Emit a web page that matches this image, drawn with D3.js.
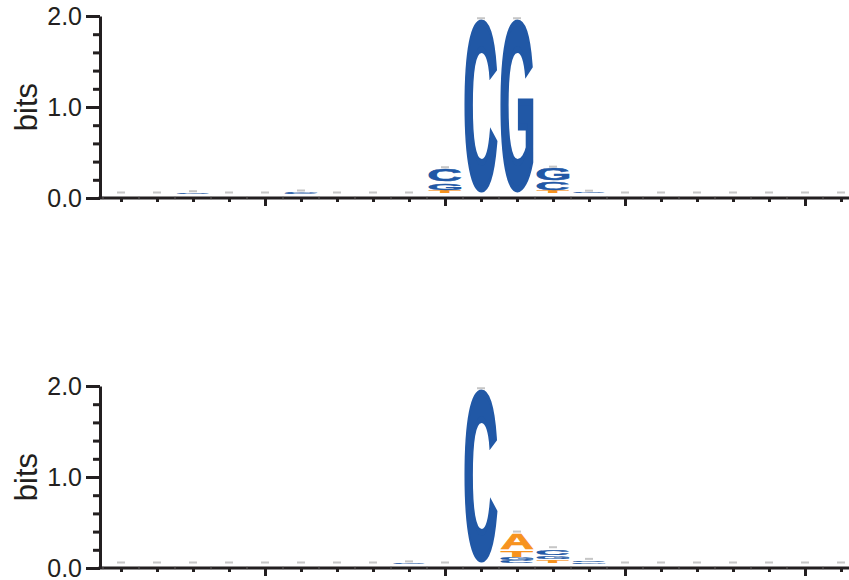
<!DOCTYPE html>
<html>
<head>
<meta charset="utf-8">
<script src="https://cdn.jsdelivr.net/npm/d3@7"></script>
<style>
  body { margin: 0; background: #fff; }
  svg { display: block; }
</style>
</head>
<body>
<svg id="logo" width="849" height="580"></svg>
<script>
// positions 1..21 of the motif window
var positions = d3.range(1, 22);
var bases = ['A', 'C', 'G', 'T'];

// top logo, bits per base and position
var topA = [0, 0, 0, 0, 0, 0, 0, 0, 0, 0,     0,    0,    0,     0,     0, 0, 0, 0, 0, 0, 0];
var topC = [0, 0, 0.014, 0, 0, 0.010, 0, 0, 0, 0.152, 1.915, 0,    0.100, 0.012, 0, 0, 0, 0, 0, 0, 0];
var topG = [0, 0, 0, 0, 0, 0.012, 0, 0, 0, 0.088, 0,     1.915, 0.146, 0.008, 0, 0, 0, 0, 0, 0, 0];
var topT = [0, 0, 0, 0, 0, 0, 0, 0, 0, 0.038, 0,     0,    0.038, 0,     0, 0, 0, 0, 0, 0, 0];

// bottom logo
var botA = [0, 0, 0, 0, 0, 0, 0, 0, 0,     0, 0,     0.187, 0,     0,     0, 0, 0, 0, 0, 0, 0];
var botC = [0, 0, 0, 0, 0, 0, 0, 0, 0.012, 0, 1.915, 0.035, 0.077, 0.025, 0, 0, 0, 0, 0, 0, 0];
var botG = [0, 0, 0, 0, 0, 0, 0, 0, 0,     0, 0,     0.036, 0.047, 0.015, 0, 0, 0, 0, 0, 0, 0];
var botT = [0, 0, 0, 0, 0, 0, 0, 0, 0,     0, 0,     0.082, 0.044, 0,     0, 0, 0, 0, 0, 0, 0];

var yMajor = [0, 1, 2];
var yMinor = [0.2, 0.4, 0.6, 0.8, 1.2, 1.4, 1.6, 1.8];
var xMajor = [5, 10, 15, 20];

var baseColor = {A: '#f7931e', C: '#2158a6', G: '#2158a6', T: '#f7931e'};
var axisColor = '#231f20';
var letterFont = '"Liberation Sans", Arial, sans-serif';

var svg = d3.select('#logo');
var W = 849;

var x = d3.scaleLinear().domain([1, 21]).range([121, 841]);
var y = d3.scaleLinear().domain([0, 2]).range([198, 16]);
var colW = 36, letterW = 33;

// ink box of each letter, to stretch glyphs into their cells
var ctx = document.createElement('canvas').getContext('2d');
ctx.font = 'bold 100px ' + letterFont;
var ink = {};
bases.forEach(function(b){
	var m = ctx.measureText(b);
	ink[b] = {l: m.actualBoundingBoxLeft, r: m.actualBoundingBoxRight,
		a: m.actualBoundingBoxAscent, d: m.actualBoundingBoxDescent};
});

function stacks(A, C, G, T){
	return positions.map(function(p, i){
		var cells = [{b:'A', v:A[i]}, {b:'C', v:C[i]}, {b:'G', v:G[i]}, {b:'T', v:T[i]}]
			.sort(function(a, b){ return a.v - b.v; });
		var acc = 0;
		cells.forEach(function(c){ c.y0 = acc; acc += c.v; c.y1 = acc; });
		return {pos: p, cells: cells, total: acc};
	});
}

function drawPanel(offset, A, C, G, T){
	var g = svg.append('g').attr('transform', 'translate(0,' + offset + ')');
	var data = stacks(A, C, G, T);
	var lift = 4;   // letters sit just above the axis line

	var cols = g.selectAll('g.col')
		.data(data)
		.enter().append('g')
			.attr('class', 'col');

	cols.selectAll('text')
		.data(function(d){ return d.cells.filter(function(c){ return (y(c.y0) - y(c.y1)) > 0.6; })
			.map(function(c){ c.pos = d.pos; return c; }); })
		.enter().append('text')
			.attr('x', function(c){ return ink[c.b].l; })
			.attr('y', function(c){ return ink[c.b].a; })
			.attr('font-family', letterFont)
			.attr('font-weight', 'bold')
			.attr('font-size', 100)
			.attr('fill', function(c){ return baseColor[c.b]; })
			.attr('stroke', function(c){ return baseColor[c.b]; })
			.attr('stroke-width', 3)
			.attr('transform', function(c){
				var h = y(c.y0) - y(c.y1);
				var pad = Math.min(0.75, h * 0.15);
				var top = y(c.y1) - lift + pad;
				var hh = h - 2 * pad;
				var i = ink[c.b];
				var sx = letterW / (i.l + i.r + 3), sy = hh / (i.a + i.d + 3);
				return 'translate(' + (x(c.pos) - letterW / 2 + 1.5 * sx) + ',' + (top + 1.5 * sy) + ') scale(' + sx + ',' + sy + ')';
			})
			.text(function(c){ return c.b; });

	// small error bars on top of each stack
	cols.append('rect')
		.attr('x', function(d){ return x(d.pos) - 4; })
		.attr('y', function(d){ return y(d.total) - lift - 2.5; })
		.attr('width', 8)
		.attr('height', 2)
		.attr('fill', '#c6c6c6');

	// y axis
	var yAxis = g.append('g').attr('transform', 'translate(100,0)');
	yAxis.call(d3.axisLeft(y).tickValues(yMajor).tickFormat(d3.format('.1f')).tickSize(14).tickSizeOuter(0));
	yAxis.append('g').call(d3.axisLeft(y).tickValues(yMinor).tickFormat('').tickSize(7).tickSizeOuter(0))
		.select('.domain').remove();
	yAxis.selectAll('line, path').attr('stroke', axisColor).attr('stroke-width', 3);
	yAxis.selectAll('text')
		.attr('font-family', '"Liberation Sans", Arial, sans-serif')
		.attr('font-size', 25)
		.attr('fill', axisColor)
		.attr('dx', -1)
		.attr('dy', '0.34em');

	g.append('text')
		.attr('transform', 'translate(37,' + ((y(0) + y(2)) / 2) + ') rotate(-90)')
		.attr('text-anchor', 'middle')
		.attr('font-family', '"Liberation Sans", Arial, sans-serif')
		.attr('font-size', 31)
		.attr('fill', axisColor)
		.text('bits');

	// x axis
	var xAxis = g.append('g').attr('transform', 'translate(0,' + y(0) + ')');
	xAxis.append('line')
		.attr('x1', 98.5).attr('x2', W)
		.attr('stroke', axisColor).attr('stroke-width', 3);
	xAxis.selectAll('line.sep')
		.data(positions)
		.enter().append('line')
			.attr('class', 'sep')
			.attr('x1', function(p){ return x(p) - colW / 2; })
			.attr('x2', function(p){ return x(p) - colW / 2; })
			.attr('y1', -1.5).attr('y2', 1.5)
			.attr('stroke', '#6d6b6b').attr('stroke-width', 0.8);
	xAxis.append('g')
		.call(d3.axisBottom(x).tickValues(positions.filter(function(p){ return xMajor.indexOf(p) < 0; }))
			.tickSize(4).tickFormat('').tickSizeOuter(0))
		.call(function(a){ a.select('.domain').remove(); });
	xAxis.append('g')
		.call(d3.axisBottom(x).tickValues(xMajor).tickSize(8).tickFormat('').tickSizeOuter(0))
		.call(function(a){ a.select('.domain').remove(); });
	xAxis.selectAll('.tick line').attr('stroke', axisColor).attr('stroke-width', 3);
}

drawPanel(0, topA, topC, topG, topT);
drawPanel(370, botA, botC, botG, botT);
</script>
</body>
</html>
